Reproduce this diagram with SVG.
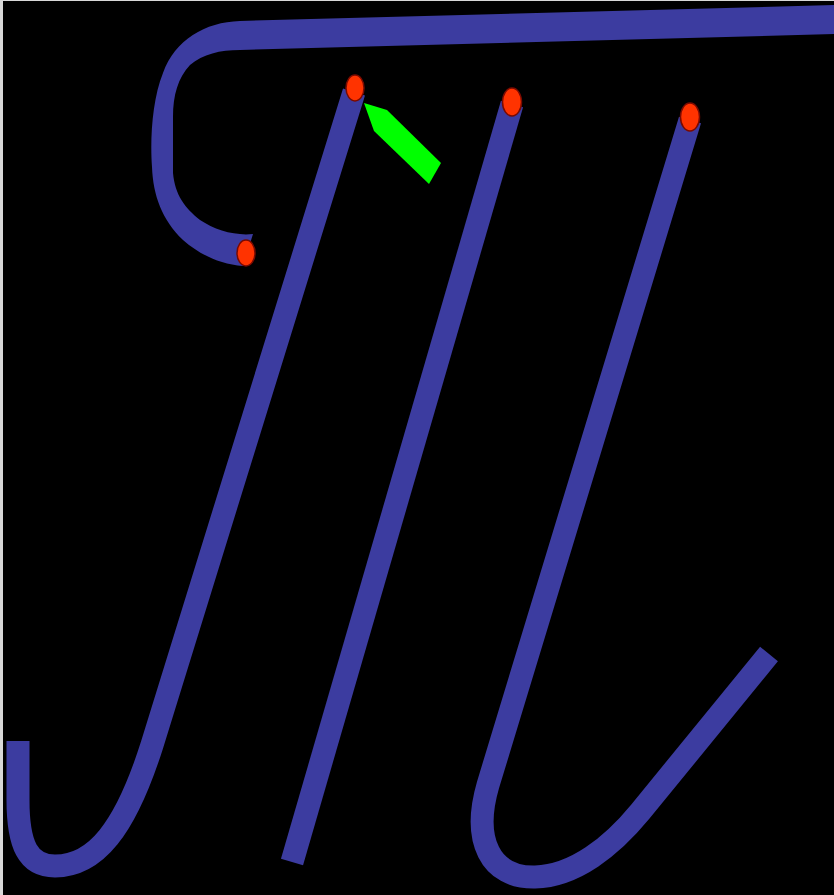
<svg xmlns="http://www.w3.org/2000/svg" width="834" height="895" viewBox="0 0 834 895">
  <style>
    .stroke { fill: none; stroke: #3c3ca0; stroke-width: 23; stroke-linecap: butt; stroke-linejoin: round; }
    .band { fill: #3c3ca0; }
    .dot { fill: #ff3300; stroke: #7a0a00; stroke-width: 1.5; }
    .pointer { fill: #00ff00; }
  </style>
  <rect x="0" y="0" width="834" height="895" fill="#d8d8d8"/>
  <rect x="3" y="1" width="831" height="894" fill="#000000"/>

  <g id="top-bar">
    <path class="band" d="M 834 5 L 240 21 C 205 22, 175 40, 163 73 C 152 100, 150 140, 152 167 C 153 195, 162 220, 183 240 C 200 255, 220 264, 243 266 L 253 234 C 235 236, 215 230, 200 220 C 185 208, 175 195, 173 173 L 173 117 C 173 95, 178 78, 190 65 C 203 54, 220 50, 240 50 L 834 34 Z"/>
  </g>

  <g id="stroke-left">
    <path class="stroke" d="M 354 92 L 152 745 C 125 830, 95 866, 55 866 C 28 866, 18 845, 18 800 L 18 741"/>
  </g>

  <g id="stroke-middle">
    <path class="stroke" d="M 512 104 L 292 862"/>
  </g>

  <g id="stroke-right">
    <path class="stroke" d="M 690 120 L 488 785 C 472 840, 490 878, 535 877 C 575 876, 612 846, 640 812 L 769 654"/>
  </g>

  <g id="dots">
    <ellipse class="dot" cx="246" cy="253" rx="9" ry="13"/>
    <ellipse class="dot" cx="355" cy="88" rx="9" ry="13"/>
    <ellipse class="dot" cx="512" cy="102" rx="9.5" ry="14"/>
    <ellipse class="dot" cx="690" cy="117" rx="9.5" ry="14"/>
  </g>

  <g id="pointer">
    <polygon class="pointer" points="364,103 387,110 441,163 429,184 374,131"/>
  </g>
</svg>
